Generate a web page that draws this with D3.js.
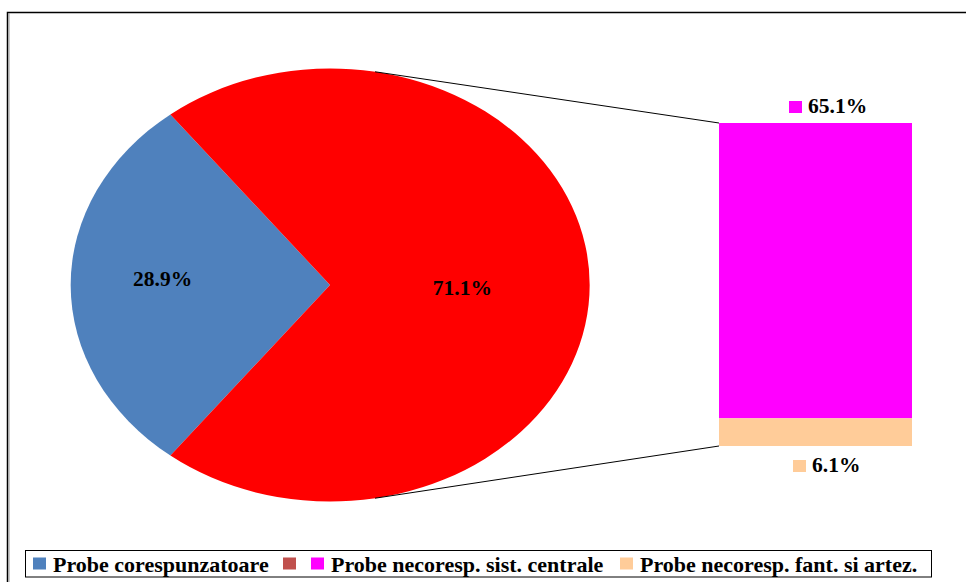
<!DOCTYPE html>
<html><head><meta charset="utf-8">
<script src="https://cdn.jsdelivr.net/npm/d3@7"></script>
<style>
html,body{margin:0;padding:0;background:#fff;}
svg{display:block;}
text{font-family:"Times New Roman","Liberation Serif",serif;font-weight:bold;fill:#000;}
</style></head>
<body>
<svg id="c" width="966" height="582"></svg>
<script>
// ---- data ----
const pieCategories = ["Probe corespunzatoare", "Probe necoresp."];
const pieValues = [28.9, 71.1];
const pieLabels = ["28.9%", "71.1%"];
const barCategories = ["Probe necoresp. sist. centrale", "Probe necoresp. fant. si artez."];
const barValues = [65.1, 6.1];
const barLabels = ["65.1%", "6.1%"];
const legendLabels = ["Probe corespunzatoare", "", "Probe necoresp. sist. centrale", "Probe necoresp. fant. si artez."];
const legendColors = ["#4F81BD", "#C0504D", "#FF00FF", "#FFCC99"];

// ---- layout ----
const W = 966, H = 582;
const svg = d3.select("#c");
const pieColors = ["#4F81BD", "#FF0000"];
const barColors = ["#FF00FF", "#FFCC99"];
const cx = 330, cy = 285, rx = 259.5, ry = 216.5;
const barX0 = 719, barX1 = 912, barTop = 123, barBottom = 446;
const labelFont = 21.5, legendFont = 22;

// outer border
svg.append("rect").attr("x", 7.5).attr("y", 12.5).attr("width", 1000).attr("height", 1000)
  .attr("fill", "none").attr("stroke", "#000").attr("stroke-width", 1.5);
svg.append("line").attr("x1", 9).attr("x2", 9).attr("y1", 13).attr("y2", H)
  .attr("stroke", "#999").attr("stroke-width", 1);

// pie (ellipse = unit circle scaled)
const blueFrac = pieValues[0] / d3.sum(pieValues);
const start = 1.5 * Math.PI - blueFrac * Math.PI;
const pie = d3.pie().sort(null).startAngle(start).endAngle(start + 2 * Math.PI);
const arcs = pie(pieValues);
const arc = d3.arc().innerRadius(0).outerRadius(1);
const pg = svg.append("g").attr("transform", `translate(${cx},${cy}) scale(${rx},${ry})`);
pg.selectAll("path").data(arcs).enter().append("path")
  .attr("d", arc).attr("fill", (d, i) => pieColors[i]);

// pie labels
const labelR = [0.645, 0.51];
const labelDy = [-7, 2.5];
arcs.forEach((d, i) => {
  const a = (d.startAngle + d.endAngle) / 2;
  const x = cx + Math.sin(a) * rx * labelR[i];
  const y = cy - Math.cos(a) * ry * labelR[i] + labelDy[i];
  svg.append("text").attr("x", x).attr("y", y).attr("dy", "0.35em")
    .attr("text-anchor", "middle").attr("font-size", labelFont).text(pieLabels[i]);
});

// bar (stacked)
const yScale = d3.scaleLinear().domain([0, d3.sum(barValues)]).range([barTop, barBottom]);
let acc = 0;
const stacked = barValues.map(v => { const s = { y0: acc, y1: acc + v }; acc += v; return s; });
svg.selectAll("rect.bar").data(stacked).enter().append("rect").attr("class", "bar")
  .attr("x", barX0).attr("width", barX1 - barX0)
  .attr("y", d => yScale(d.y0)).attr("height", d => yScale(d.y1) - yScale(d.y0))
  .attr("fill", (d, i) => barColors[i]);

// connector lines
const connA = [10 * Math.PI / 180, 170 * Math.PI / 180];
const ept = a => [cx + Math.sin(a) * rx, cy - Math.cos(a) * ry];
const p1 = ept(connA[0]), p2 = ept(connA[1]);
svg.append("line").attr("x1", p1[0]).attr("y1", p1[1]).attr("x2", barX0).attr("y2", yScale(0))
  .attr("stroke", "#000").attr("stroke-width", 1);
svg.append("line").attr("x1", p2[0]).attr("y1", p2[1]).attr("x2", barX0).attr("y2", yScale(d3.sum(barValues)))
  .attr("stroke", "#000").attr("stroke-width", 1);

// bar labels
const barLabelPos = [{ x: 789, y: 113 }, { x: 793, y: 472 }];
barLabels.forEach((t, i) => {
  const g = svg.append("g").attr("transform", `translate(${barLabelPos[i].x},${barLabelPos[i].y})`);
  g.append("rect").attr("x", 0).attr("y", -12).attr("width", 13).attr("height", 12).attr("fill", barColors[i]);
  g.append("text").attr("x", 19).attr("y", 0).attr("font-size", labelFont).text(t);
});

// legend
svg.append("rect").attr("x", 25.5).attr("y", 550.5).attr("width", 906).attr("height", 26.5)
  .attr("fill", "#fff").attr("stroke", "#000").attr("stroke-width", 1);
const legX = [33, 283, 311, 620];
legendLabels.forEach((t, i) => {
  svg.append("rect").attr("x", legX[i]).attr("y", 557.5).attr("width", 13).attr("height", 12).attr("fill", legendColors[i]);
  if (t) svg.append("text").attr("x", legX[i] + 20).attr("y", 572).attr("font-size", legendFont).text(t);
});
</script>
</body></html>
